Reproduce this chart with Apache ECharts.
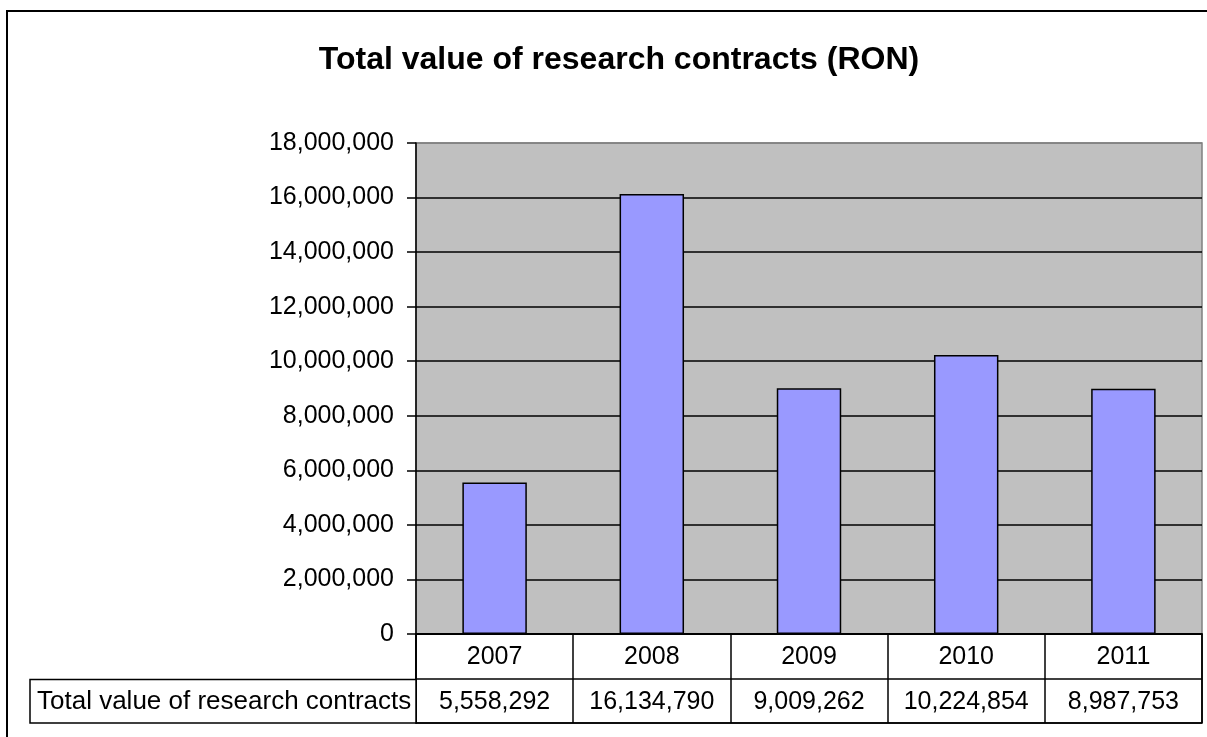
<!DOCTYPE html>
<html>
<head>
<meta charset="utf-8">
<script src="https://cdn.jsdelivr.net/npm/echarts@6/dist/echarts.min.js"></script>
<style>
html,body{margin:0;padding:0;background:#fff;}
#chart{width:1207px;height:737px;}
</style>
</head>
<body>
<div id="chart"></div>
<script>
const titleText = 'Total value of research contracts (RON)';
const seriesName = 'Total value of research contracts';
const years = ['2007', '2008', '2009', '2010', '2011'];
const values = [5558292, 16134790, 9009262, 10224854, 8987753];
const yTicks = { min: 0, max: 18000000, interval: 2000000 };

const FONT = '"Liberation Sans", Arial, sans-serif';
const fmt = v => v.toLocaleString('en-US');

const chart = echarts.init(document.getElementById('chart'), null, { renderer: 'canvas' });

const gridColors = [];
for (let v = yTicks.min; v <= yTicks.max; v += yTicks.interval) {
  gridColors.push(v === yTicks.max ? '#808080' : '#000000');
}

const option = {
  backgroundColor: '#ffffff',
  animation: false,
  title: {
    text: titleText,
    left: 614,
    textAlign: 'center',
    top: 39,
    textStyle: { fontFamily: FONT, fontSize: 32, fontWeight: 'bold', color: '#000' }
  },
  graphic: [
    {
      type: 'rect', z: 100, silent: true,
      shape: { x: 7, y: 11, width: 1220, height: 740 },
      style: { fill: 'none', stroke: '#000', lineWidth: 2 }
    },
    {
      type: 'rect', z: 100, silent: true,
      shape: { x: 30, y: 679.5, width: 386, height: 43.5 },
      style: { fill: '#fff', stroke: '#000', lineWidth: 1.5 }
    },
    {
      type: 'text', z: 101, silent: true,
      x: 37, y: 702,
      style: { text: seriesName, font: '26px ' + FONT, fill: '#000', verticalAlign: 'middle', align: 'left' }
    }
  ],
  grid: [
    { left: 416, right: 5, top: 143, bottom: 103, show: true, backgroundColor: '#C0C0C0', borderColor: '#808080', borderWidth: 1.5 },
    { left: 416, right: 5, top: 634, bottom: 14, show: true, backgroundColor: '#fff', borderColor: '#000', borderWidth: 1.5 }
  ],
  xAxis: [
    {
      type: 'category', gridIndex: 0, data: years,
      axisLine: { show: true, lineStyle: { color: '#000', width: 1.5 } },
      axisTick: { show: false },
      axisLabel: { show: false },
      splitLine: { show: false }
    },
    {
      type: 'category', gridIndex: 1, data: years,
      axisLine: { show: false },
      axisTick: { show: false },
      axisLabel: { show: false },
      splitLine: { show: true, lineStyle: { color: '#000', width: 1.5 } }
    }
  ],
  yAxis: [
    {
      type: 'value', gridIndex: 0,
      min: yTicks.min, max: yTicks.max, interval: yTicks.interval,
      axisLine: { show: true, lineStyle: { color: '#000', width: 1.5 } },
      axisTick: { show: true, inside: false, length: 9, lineStyle: { color: '#000', width: 1.5 } },
      axisLabel: { color: '#000', fontFamily: FONT, fontSize: 25, margin: 22, formatter: v => fmt(v) },
      splitLine: { show: true, lineStyle: { color: gridColors, width: 1.5 } }
    },
    {
      type: 'category', gridIndex: 1, data: ['year', 'value'], inverse: true,
      axisLine: { show: true, lineStyle: { color: '#000', width: 1.5 } },
      axisTick: { show: false },
      axisLabel: { show: false },
      splitLine: { show: true, lineStyle: { color: '#000', width: 1.5 } }
    }
  ],
  series: [
    {
      type: 'bar', name: seriesName, xAxisIndex: 0, yAxisIndex: 0,
      data: values, barWidth: '41%',
      itemStyle: { color: '#9999FF', borderColor: '#000', borderWidth: 1.5 }
    },
    {
      type: 'custom', xAxisIndex: 1, yAxisIndex: 1,
      data: years.map((y, i) => [i, 0, values[i]]),
      encode: { x: 0, y: 1 },
      renderItem: function (params, api) {
        const i = api.value(0);
        const pYear = api.coord([i, 0]);
        const pVal = api.coord([i, 1]);
        return {
          type: 'group',
          children: [
            { type: 'text', x: pYear[0], y: pYear[1] + 1, style: { text: years[i], font: '25px ' + FONT, fill: '#000', align: 'center', verticalAlign: 'middle' } },
            { type: 'text', x: pVal[0], y: pVal[1] + 1, style: { text: fmt(values[i]), font: '25px ' + FONT, fill: '#000', align: 'center', verticalAlign: 'middle' } }
          ]
        };
      }
    }
  ]
};
chart.setOption(option);
</script>
</body>
</html>
